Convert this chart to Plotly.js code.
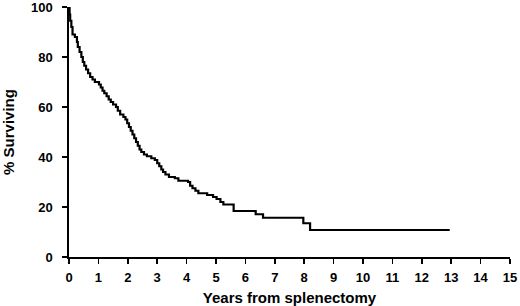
<!DOCTYPE html>
<html>
<head>
<meta charset="utf-8">
<script src="https://cdn.plot.ly/plotly-3.0.1.min.js"></script>
<style>html,body{margin:0;padding:0;background:#fff;}#chart{width:520px;height:306px;}</style>
</head>
<body>
<div id="chart"></div>
<script>
// Kaplan-Meier survival after splenectomy (step times in years, % surviving after each step)
const years = [0, 0.02, 0.04, 0.08, 0.12, 0.2, 0.27, 0.3, 0.36, 0.42, 0.47, 0.52, 0.58, 0.65, 0.72, 0.8, 0.88,
  1.02, 1.08, 1.14, 1.2, 1.28, 1.35, 1.42, 1.5, 1.6, 1.66, 1.74, 1.85, 1.92, 1.98,
  2.04, 2.1, 2.16, 2.22, 2.28, 2.34, 2.4, 2.46, 2.55, 2.65, 2.8, 2.92,
  3.0, 3.07, 3.14, 3.2, 3.28, 3.4, 3.6, 3.72,
  4.05, 4.12, 4.2, 4.3, 4.4, 4.7, 4.9,
  5.02, 5.15, 5.25, 5.6, 6.35, 6.6, 7.97, 8.2, 12.95];
const surviving = [100, 97, 94.5, 92, 89, 88, 86, 84, 82, 80, 78, 76.5, 75, 73.5, 72, 71, 70,
  69, 67.8, 66.5, 65.5, 64.3, 63, 62, 61, 60, 58.5, 57, 56, 55, 53.5,
  52, 50.5, 49, 47.5, 46, 44.5, 43, 42, 41, 40.3, 39.5, 38.8,
  37.5, 36.3, 35, 34, 33, 32, 31.5, 30.5,
  30, 28.5, 27.5, 26.5, 25.5, 24.8, 24,
  23.2, 22, 21, 18.4, 17.1, 15.7, 13.5, 10.8, 10.8];
const xTicks = [0,1,2,3,4,5,6,7,8,9,10,11,12,13,14,15];
const yTicks = [0,20,40,60,80,100];
const xTitle = 'Years from splenectomy';
const yTitle = '% Surviving';

const font = 'Liberation Sans, Arial, Helvetica, sans-serif';
const trace = {
  x: years, y: surviving, type: 'scatter', mode: 'lines',
  line: {shape: 'hv', color: '#000', width: 2.2},
  hoverinfo: 'skip'
};
const axisCommon = {
  showline: true, linecolor: '#000', linewidth: 1.6,
  ticks: 'outside', ticklen: 5, tickwidth: 1.5, tickcolor: '#000',
  showgrid: false, zeroline: false, fixedrange: true,
  ticklabeloverflow: 'allow',
  tickfont: {family: font, size: 13, color: '#000', weight: 700}
};
const layout = {
  width: 520, height: 306,
  margin: {l: 69, r: 10, t: 7, b: 49},
  paper_bgcolor: '#fff', plot_bgcolor: '#fff',
  showlegend: false,
  xaxis: Object.assign({}, axisCommon, {
    range: [0, 15], tickvals: xTicks, ticktext: xTicks.map(String),
    ticklabelstandoff: 3,
    title: {text: xTitle, font: {family: font, size: 15, color: '#000', weight: 700}, standoff: 10}
  }),
  yaxis: Object.assign({}, axisCommon, {
    range: [0, 100], tickvals: yTicks, ticktext: yTicks.map(String),
    ticklabelstandoff: 7,
    title: {text: yTitle, font: {family: font, size: 15, color: '#000', weight: 700}, standoff: 21}
  })
};
Plotly.newPlot('chart', [trace], layout, {displayModeBar: false, staticPlot: true});
</script>
</body>
</html>
